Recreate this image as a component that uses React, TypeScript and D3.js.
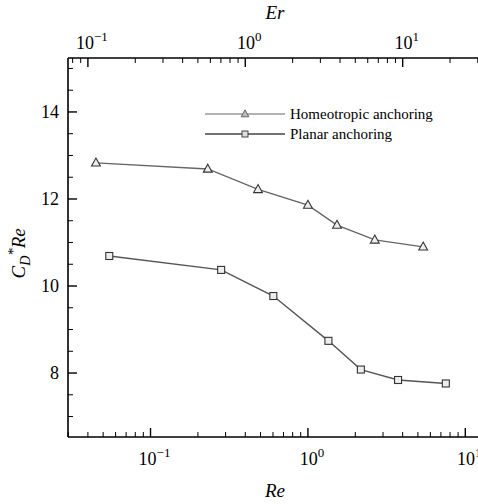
import React from 'react';
import * as d3 from 'd3';

// Homeotropic anchoring (triangles)
const homeoRe = [0.045, 0.231, 0.482, 1.0, 1.53, 2.66, 5.4];
const homeoCd = [12.83, 12.69, 12.22, 11.86, 11.4, 11.06, 10.9];

// Planar anchoring (squares)
const planarRe = [0.0547, 0.281, 0.603, 1.35, 2.17, 3.74, 7.52];
const planarCd = [10.69, 10.37, 9.77, 8.74, 8.08, 7.84, 7.76];

const yTicks = [8, 10, 12, 14];
const reDecades = [-1, 0, 1];
const erDecades = [-1, 0, 1];
const erFactor = 2.5; // Er = 2.5 * Re

const legendLabels = ['Homeotropic anchoring', 'Planar anchoring'];

const W = 478;
const H = 504;
const margin = { top: 58, right: -2, bottom: 67, left: 68 };
const FONT = "'Liberation Serif', 'DejaVu Serif', serif";
const txt = { fontFamily: FONT };

function minorTicks(domain: number[]) {
  const out: number[] = [];
  const lo = Math.floor(Math.log10(domain[0]));
  const hi = Math.ceil(Math.log10(domain[1]));
  for (let e = lo; e <= hi; e++) {
    for (let m = 1; m <= 9; m++) {
      const v = m * Math.pow(10, e);
      if (v >= domain[0] && v <= domain[1]) out.push(v);
    }
  }
  return out;
}

const expLabel = (e: number) => (e < 0 ? '\u2212' + Math.abs(e) : String(e));

export default function App() {
  const innerW = W - margin.left - margin.right;
  const innerH = H - margin.top - margin.bottom;
  const x0 = margin.left;
  const x1 = margin.left + innerW;
  const y0 = margin.top;
  const y1 = margin.top + innerH;

  const reDomain = [0.0299, 12.4];
  const x = d3.scaleLog().domain(reDomain).range([x0, x1]);
  const erDomain = [reDomain[0] * erFactor, reDomain[1] * erFactor];
  const xEr = d3.scaleLog().domain(erDomain).range([x0, x1]);
  const y = d3.scaleLinear().domain([6.53, 15.24]).range([y1, y0]);

  const line = d3
    .line<[number, number]>()
    .x((d) => x(d[0]))
    .y((d) => y(d[1]));

  const homeo: [number, number][] = homeoRe.map((r, i) => [r, homeoCd[i]]);
  const planar: [number, number][] = planarRe.map((r, i) => [r, planarCd[i]]);

  const yMinor = d3.range(6.5, 15.3, 0.5).filter((v) => v >= 6.53 && v <= 15.24);

  const tri = (cx: number, cy: number, s: number) =>
    `M${cx},${cy - s * 0.6} L${cx + s * 0.55},${cy + s * 0.4} L${cx - s * 0.55},${cy + s * 0.4} Z`;

  const ms = 8;

  return (
    <svg width={W} height={H} style={{ position: 'absolute', left: 0, top: 0, background: '#fff' }}>
      {/* data lines */}
      <path d={line(homeo) || ''} fill="none" stroke="#666" strokeWidth={1.4} />
      <path d={line(planar) || ''} fill="none" stroke="#555" strokeWidth={1.4} />
      {homeo.map((d, i) => (
        <path key={'h' + i} d={tri(x(d[0]), y(d[1]), ms)} fill="#eee" stroke="#333" strokeWidth={1.1} />
      ))}
      {planar.map((d, i) => (
        <rect
          key={'p' + i}
          x={x(d[0]) - 3.5}
          y={y(d[1]) - 3.5}
          width={7}
          height={7}
          fill="#eee"
          stroke="#333"
          strokeWidth={1.1}
        />
      ))}

      {/* axes lines */}
      <line x1={x0} x2={x0} y1={y0} y2={y1} stroke="#000" strokeWidth={1.6} />
      <line x1={x0} x2={x1} y1={y1} y2={y1} stroke="#000" strokeWidth={1.6} />
      <line x1={x0} x2={x1} y1={y0} y2={y0} stroke="#000" strokeWidth={1.6} />

      {/* left ticks */}
      {yMinor.map((v) => {
        const major = yTicks.includes(v);
        return (
          <line
            key={'ym' + v}
            x1={x0}
            x2={x0 + (major ? 9 : 5)}
            y1={y(v)}
            y2={y(v)}
            stroke="#000"
            strokeWidth={major ? 1.4 : 1}
          />
        );
      })}
      {yTicks.map((v) => (
        <text key={'yl' + v} x={x0 - 9} y={y(v) + 6} textAnchor="end" fontSize={18} style={txt}>
          {v}
        </text>
      ))}

      {/* bottom ticks */}
      {minorTicks(reDomain).map((v, i) => {
        const major = reDecades.some((e) => Math.abs(Math.pow(10, e) - v) < 1e-9);
        return (
          <line
            key={'bx' + i}
            x1={x(v)}
            x2={x(v)}
            y1={y1}
            y2={y1 - (major ? 9 : 5)}
            stroke="#000"
            strokeWidth={major ? 1.4 : 1}
          />
        );
      })}
      {reDecades.map((e) => (
        <text key={'bl' + e} x={x(Math.pow(10, e)) + 4} y={y1 + 28} textAnchor="middle" fontSize={18} style={txt}>
          10
          <tspan fontSize={13} dy={-8}>
            {expLabel(e)}
          </tspan>
        </text>
      ))}

      {/* top ticks */}
      {minorTicks(erDomain).map((v, i) => {
        const major = erDecades.some((e) => Math.abs(Math.pow(10, e) - v) < 1e-9);
        return (
          <line
            key={'tx' + i}
            x1={xEr(v)}
            x2={xEr(v)}
            y1={y0}
            y2={y0 + (major ? 9 : 5)}
            stroke="#000"
            strokeWidth={major ? 1.4 : 1}
          />
        );
      })}
      {erDecades.map((e) => (
        <text key={'tl' + e} x={xEr(Math.pow(10, e)) + 4} y={y0 - 9} textAnchor="middle" fontSize={18} style={txt}>
          10
          <tspan fontSize={13} dy={-8}>
            {expLabel(e)}
          </tspan>
        </text>
      ))}

      {/* axis titles */}
      <text x={275} y={19} textAnchor="middle" fontSize={19} fontStyle="italic" style={txt}>
        Er
      </text>
      <text x={275} y={497} textAnchor="middle" fontSize={19} fontStyle="italic" style={txt}>
        Re
      </text>
      <text
        transform={`translate(25,${y(10.75)}) rotate(-90)`}
        textAnchor="middle"
        fontSize={19}
        fontStyle="italic"
        style={txt}
      >
        C
        <tspan fontSize={14} dy={5}>
          D
        </tspan>
        <tspan fontSize={15} dy={-12}>
          *
        </tspan>
        <tspan dy={7}>Re</tspan>
      </text>

      {/* legend */}
      {legendLabels.map((lab, i) => {
        const ly = 114 + i * 20;
        return (
          <g key={lab}>
            <line x1={205} x2={285} y1={ly} y2={ly} stroke={i === 0 ? '#999' : '#444'} strokeWidth={1.5} />
            {i === 0 ? (
              <path d={tri(245, ly, 7)} fill="#bbb" stroke="#666" strokeWidth={1} />
            ) : (
              <rect x={242} y={ly - 3} width={6} height={6} fill="#ddd" stroke="#444" strokeWidth={1} />
            )}
            <text x={290} y={ly + 5} fontSize={15} style={txt}>
              {lab}
            </text>
          </g>
        );
      })}
    </svg>
  );
}
